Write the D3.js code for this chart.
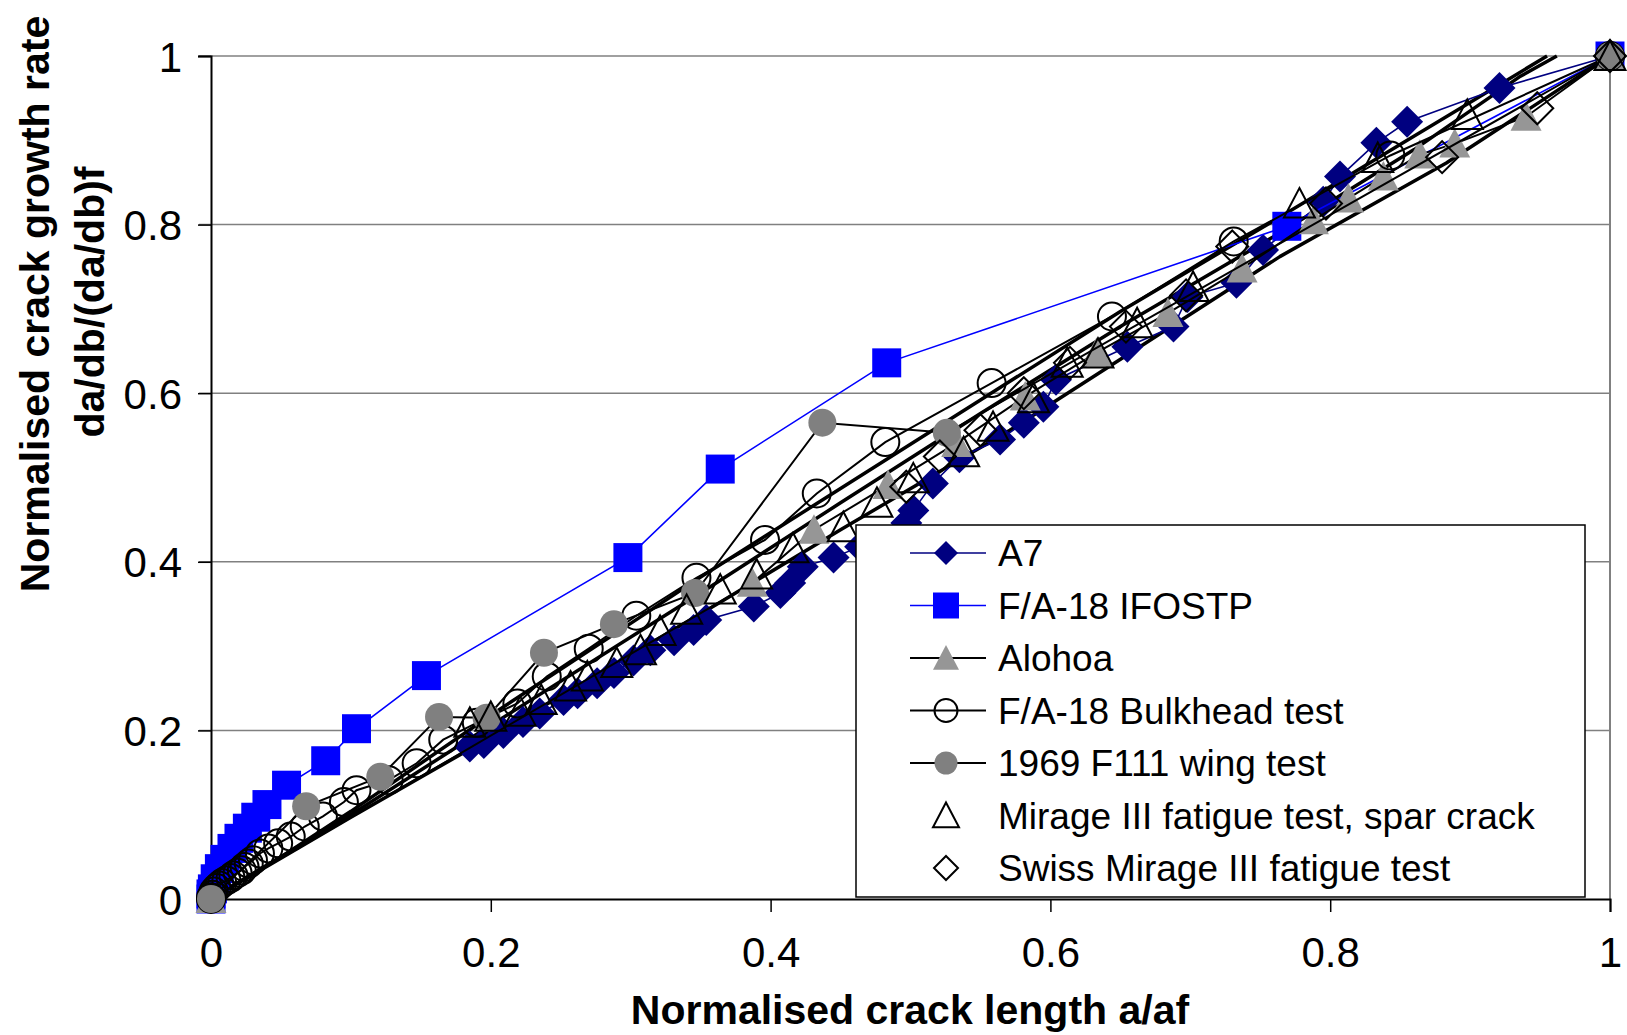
<html>
<head>
  <title>Normalised crack growth rate</title>
  <script src="https://d3js.org/d3.v7.min.js"></script>
  <style>
    body { margin: 0; background: #fff; }
    text { font-family: "Liberation Sans", Arial, sans-serif; fill: #000; }
    .tick-label { font-size: 42px; }
    .axis-title { font-size: 41px; font-weight: bold; }
    .legend-label { font-size: 37px; }
  </style>
</head>
<body>
  <div id="chart"></div>

  <script>
    // values: [a/af, normalised rate]
    var a7 = [[0.185,0.181],[0.195,0.185],[0.209,0.197],[0.223,0.210],[0.235,0.220],[0.252,0.236],
      [0.262,0.244],[0.276,0.256],[0.288,0.268],[0.302,0.283],[0.314,0.295],[0.331,0.307],
      [0.345,0.319],[0.354,0.331],[0.388,0.347],[0.407,0.363],[0.414,0.375],[0.423,0.394],
      [0.445,0.405],[0.464,0.418],[0.497,0.446],[0.502,0.461],[0.516,0.493],[0.535,0.524],
      [0.564,0.545],[0.581,0.565],[0.595,0.584],[0.604,0.616],[0.655,0.655],[0.688,0.679],
      [0.698,0.714],[0.733,0.731],[0.752,0.770],[0.795,0.827],[0.807,0.857],[0.833,0.897],
      [0.855,0.922],[0.921,0.962],[1,1]];

    var fa18Ifostp = [[0,0],[0,0.006],[0.001,0.012],[0.003,0.024],[0.006,0.036],[0.010,0.047],[0.015,0.060],
      [0.020,0.072],[0.026,0.084],[0.032,0.097],[0.040,0.112],[0.054,0.135],[0.082,0.164],
      [0.104,0.202],[0.154,0.265],[0.298,0.405],[0.364,0.510],[0.483,0.636],[0.769,0.798],[1,1]];

    var alohoa = [[0,0],[0.387,0.375],[0.431,0.438],[0.484,0.491],[0.533,0.541],[0.582,0.596],
      [0.633,0.648],[0.684,0.695],[0.737,0.748],[0.788,0.805],[0.813,0.831],[0.838,0.857],
      [0.864,0.883],[0.889,0.896],[0.940,0.928],[1,1]];

    var fa18Bulkhead = [[0,0],[0,0.002],[0.001,0.005],[0.002,0.009],[0.004,0.013],[0.006,0.016],
      [0.008,0.019],[0.011,0.022],[0.014,0.025],[0.016,0.028],[0.019,0.031],[0.022,0.034],
      [0.024,0.038],[0.027,0.042],[0.030,0.046],[0.035,0.054],[0.041,0.060],[0.048,0.066],
      [0.057,0.074],[0.067,0.086],[0.080,0.098],[0.095,0.115],[0.104,0.129],[0.127,0.141],
      [0.147,0.161],[0.166,0.189],[0.190,0.209],[0.219,0.232],[0.240,0.264],[0.270,0.297],
      [0.304,0.336],[0.347,0.381],[0.396,0.426],[0.433,0.481],[0.482,0.542],[0.558,0.612],
      [0.644,0.691],[0.731,0.780],[0.843,0.882],[1,1]];

    var f111Wing = [[0,0],[0.068,0.110],[0.121,0.145],[0.163,0.216],[0.197,0.215],[0.238,0.292],
      [0.288,0.326],[0.346,0.363],[0.437,0.565],[0.526,0.553],[1,1]];

    var mirageSpar = [[0.185,0.209],[0.200,0.216],[0.221,0.222],[0.236,0.236],[0.257,0.252],
      [0.269,0.264],[0.290,0.280],[0.307,0.295],[0.321,0.318],[0.340,0.343],[0.364,0.367],
      [0.390,0.385],[0.416,0.416],[0.452,0.441],[0.476,0.470],[0.502,0.499],[0.538,0.530],
      [0.559,0.560],[0.588,0.594],[0.612,0.636],[0.634,0.647],[0.662,0.683],[0.702,0.726],
      [0.778,0.825],[0.834,0.879],[0.898,0.930],[1,1]];

    var swissMirage = [[0.497,0.489],[0.521,0.525],[0.550,0.556],[0.581,0.600],[0.614,0.636],
      [0.654,0.679],[0.697,0.716],[0.730,0.774],[0.797,0.825],[0.880,0.880],[0.948,0.938],[1,1]];

    // heavy unlabelled curves through the scatter
    var curveUpper = [[0,0],[0.05,0.05],[0.1,0.104],[0.2,0.218],[0.3,0.327],[0.35,0.382],
      [0.45,0.487],[0.55,0.592],[0.65,0.697],[0.757,0.802],[0.85,0.895],[0.955,1.0]];
    var curveMiddle = [[0,0],[0.1,0.1],[0.2,0.206],[0.35,0.363],[0.45,0.47],[0.55,0.576],
      [0.65,0.679],[0.764,0.790],[0.86,0.889],[0.935,0.975],[0.962,1.0]];
    var curveLower = [[0,0],[0.1,0.097],[0.2,0.192],[0.364,0.352],[0.45,0.438],[0.571,0.556],
      [0.664,0.655],[0.764,0.762],[0.883,0.873],[1,1]];

    var tickValues = [0, 0.2, 0.4, 0.6, 0.8, 1];
    var tickLabels = ['0', '0.2', '0.4', '0.6', '0.8', '1'];

    var seriesNames = ['A7', 'F/A-18 IFOSTP', 'Alohoa', 'F/A-18 Bulkhead test',
      '1969 F111 wing test', 'Mirage III fatigue test, spar crack', 'Swiss Mirage III fatigue test'];

    // Set the dimensions of the canvas / graph
    var margin = {top: 56, right: 17, bottom: 136, left: 211},
        width = 1627 - margin.left - margin.right,
        height = 1035 - margin.top - margin.bottom;

    var series = [
      {name: seriesNames[0], data: a7, line: '#000080', lw: 1.6, marker: 'diamond', fill: '#000080', stroke: 'none'},
      {name: seriesNames[1], data: fa18Ifostp, line: '#0000ff', lw: 1.6, marker: 'square', fill: '#0000ff', stroke: 'none'},
      {name: seriesNames[2], data: alohoa, line: '#000', lw: 2, marker: 'triangle', fill: '#969696', stroke: 'none'},
      {name: seriesNames[3], data: fa18Bulkhead, line: '#000', lw: 2, marker: 'circle', fill: 'none', stroke: '#000'},
      {name: seriesNames[4], data: f111Wing, line: '#000', lw: 2, marker: 'circle', fill: '#808080', stroke: 'none'},
      {name: seriesNames[5], data: mirageSpar, line: null, lw: 0, marker: 'triangle', fill: 'none', stroke: '#000'},
      {name: seriesNames[6], data: swissMirage, line: null, lw: 0, marker: 'diamond', fill: 'none', stroke: '#000'}
    ];

    var x = d3.scaleLinear().domain([0, 1]).range([0, width]);
    var y = d3.scaleLinear().domain([0, 1]).range([height, 0]);

    var valueline = d3.line()
        .x(function(d) { return x(d[0]); })
        .y(function(d) { return y(d[1]); });

    function markerPath(type, s) {
      if (type == 'diamond') return 'M0,' + (-s) + 'L' + s + ',0L0,' + s + 'L' + (-s) + ',0Z';
      if (type == 'square') return 'M' + (-s) + ',' + (-s) + 'H' + s + 'V' + s + 'H' + (-s) + 'Z';
      if (type == 'triangle') return 'M0,' + (-s) + 'L' + s + ',' + (s * 0.9) + 'L' + (-s) + ',' + (s * 0.9) + 'Z';
      return d3.symbol().type(d3.symbolCircle).size(Math.PI * s * s)();
    }
    var markerSize = {diamond: 16, square: 14.5, triangle: 15.5, circle: 14};

    var svg = d3.select('#chart')
        .append('svg')
            .attr('width', 1627)
            .attr('height', 1035)
            .append('g')
            .attr('transform', 'translate(' + margin.left + ',' + margin.top + ')');

    // gridlines
    svg.selectAll('.grid')
        .data(tickValues.slice(1))
        .enter().append('line')
          .attr('x1', -12).attr('x2', width)
          .attr('y1', function(d) { return y(d); })
          .attr('y2', function(d) { return y(d); })
          .style('stroke', '#808080')
          .style('stroke-width', 1.5);

    // right border of plot area
    svg.append('line')
        .attr('x1', width).attr('x2', width)
        .attr('y1', 0).attr('y2', height)
        .style('stroke', '#808080')
        .style('stroke-width', 2);

    // Add the X Axis
    var xAxis = svg.append('g')
        .attr('transform', 'translate(0,' + height + ')')
        .call(d3.axisBottom(x).tickValues(tickValues).tickSize(13).tickPadding(26)
          .tickFormat(function(d, i) { return tickLabels[i]; }));

    // Add the Y Axis
    var yAxis = svg.append('g')
        .call(d3.axisLeft(y).tickValues(tickValues).tickSize(13).tickPadding(16)
          .tickFormat(function(d, i) { return tickLabels[i]; }));

    [xAxis, yAxis].forEach(function(ax) {
      ax.select('.domain').style('stroke', '#000').style('stroke-width', 2);
      ax.selectAll('.tick line').style('stroke', '#000').style('stroke-width', 1.5);
      ax.selectAll('.tick text').attr('class', 'tick-label').attr('fill', '#000')
        .style('font-family', '"Liberation Sans", Arial, sans-serif');
    });
    yAxis.selectAll('.tick text').attr('dy', '0.36em');
    xAxis.selectAll('.tick text').attr('dy', '0.7em');

    // heavy curves first, then series in order
    [curveLower, curveMiddle, curveUpper].forEach(function(c) {
      svg.append('path')
        .datum(c)
        .attr('d', valueline)
        .style('fill', 'none')
        .style('stroke', '#000')
        .style('stroke-width', 3.5)
        .style('stroke-linejoin', 'round');
    });

    series.forEach(function(s) {
      if (s.line) {
        svg.append('path')
          .datum(s.data)
          .attr('d', valueline)
          .style('fill', 'none')
          .style('stroke', s.line)
          .style('stroke-width', s.lw);
      }
      svg.selectAll(null)
        .data(s.data)
        .enter().append('path')
          .attr('transform', function(d) { return 'translate(' + x(d[0]) + ',' + y(d[1]) + ')'; })
          .attr('d', markerPath(s.marker, markerSize[s.marker]))
          .style('fill', s.fill)
          .style('stroke', s.stroke)
          .style('stroke-width', 2);
    });

    // Legend
    var legend = svg.append('g')
        .attr('transform', 'translate(' + (856 - margin.left) + ',' + (525 - margin.top) + ')');

    legend.append('rect')
        .attr('width', 729)
        .attr('height', 372)
        .style('fill', '#fff')
        .style('stroke', '#000')
        .style('stroke-width', 1.5);

    var legendMarkerSize = {diamond: 12, square: 13, triangle: 13, circle: 11.5};
    var rows = legend.selectAll('.legend-row')
        .data(series)
        .enter().append('g')
          .attr('transform', function(d, i) { return 'translate(0,' + (28 + i * 52.5) + ')'; });

    rows.filter(function(d) { return d.line; })
        .append('line')
          .attr('x1', 54).attr('x2', 130)
          .style('stroke', function(d) { return d.line; })
          .style('stroke-width', function(d) { return d.lw; });

    rows.append('path')
        .attr('transform', 'translate(90,0)')
        .attr('d', function(d) { return markerPath(d.marker, legendMarkerSize[d.marker]); })
        .style('fill', function(d) { return d.fill; })
        .style('stroke', function(d) { return d.stroke; })
        .style('stroke-width', 2);

    rows.append('text')
        .attr('class', 'legend-label')
        .attr('x', 142)
        .attr('y', 13)
        .text(function(d) { return d.name; });

    // axis titles
    svg.append('text')
        .attr('class', 'axis-title')
        .attr('text-anchor', 'middle')
        .attr('x', 910 - margin.left)
        .attr('y', 1024 - margin.top)
        .text('Normalised crack length a/af');

    svg.append('text')
        .attr('class', 'axis-title')
        .attr('text-anchor', 'middle')
        .attr('transform', 'rotate(-90)')
        .attr('x', -(304 - margin.top))
        .attr('y', 49 - margin.left)
        .text('Normalised crack growth rate');

    svg.append('text')
        .attr('class', 'axis-title')
        .attr('text-anchor', 'middle')
        .attr('transform', 'rotate(-90)')
        .attr('x', -(302 - margin.top))
        .attr('y', 104 - margin.left)
        .text('da/db/(da/db)f');
  </script>
</body>
</html>
